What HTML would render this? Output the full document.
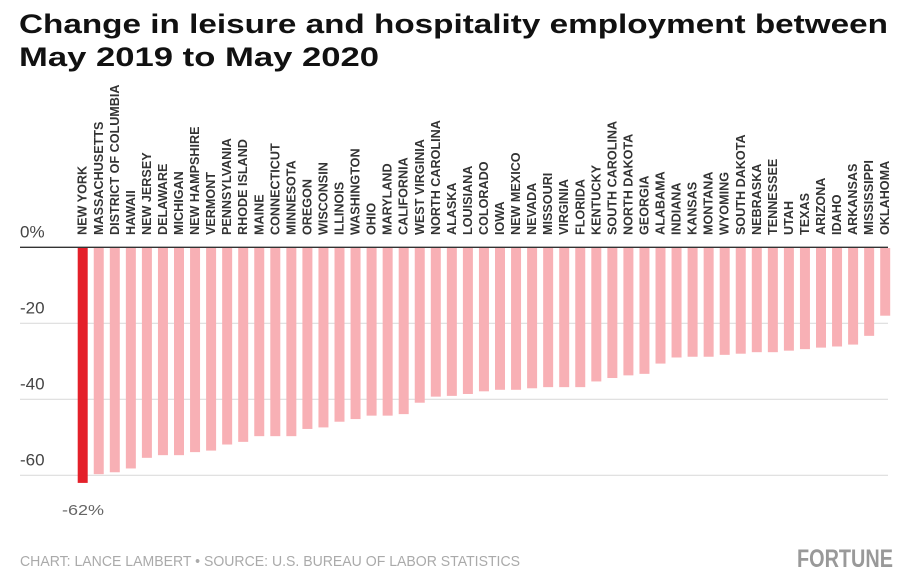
<!DOCTYPE html>
<html><head><meta charset="utf-8"><style>
html,body{margin:0;padding:0;background:#fff;}
svg{display:block;font-family:"Liberation Sans",sans-serif;}
</style></head>
<body>
<svg id="chart" width="918" height="578" viewBox="0 0 918 578">
<text x="19" y="33" font-size="26.5" font-weight="bold" fill="#111" textLength="869" lengthAdjust="spacingAndGlyphs">Change in leisure and hospitality employment between</text>
<text x="19" y="66" font-size="26.5" font-weight="bold" fill="#111" textLength="360" lengthAdjust="spacingAndGlyphs">May 2019 to May 2020</text>
<g id="grid"></g>
<g id="bars"></g>
<g id="labels"></g>
<text x="62" y="515" font-size="15" fill="#666" textLength="42" lengthAdjust="spacingAndGlyphs">-62%</text>
<text x="20" y="566" font-size="15" fill="#aaa" textLength="500" lengthAdjust="spacingAndGlyphs">CHART: LANCE LAMBERT • SOURCE: U.S. BUREAU OF LABOR STATISTICS</text>
<text x="797" y="567" font-size="25" font-weight="bold" fill="#999" textLength="96" lengthAdjust="spacingAndGlyphs">FORTUNE</text>
</svg>
<script>
const states = ["NEW YORK","MASSACHUSETTS","DISTRICT OF COLUMBIA","HAWAII","NEW JERSEY","DELAWARE","MICHIGAN","NEW HAMPSHIRE","VERMONT","PENNSYLVANIA","RHODE ISLAND","MAINE","CONNECTICUT","MINNESOTA","OREGON","WISCONSIN","ILLINOIS","WASHINGTON","OHIO","MARYLAND","CALIFORNIA","WEST VIRGINIA","NORTH CAROLINA","ALASKA","LOUISIANA","COLORADO","IOWA","NEW MEXICO","NEVADA","MISSOURI","VIRGINIA","FLORIDA","KENTUCKY","SOUTH CAROLINA","NORTH DAKOTA","GEORGIA","ALABAMA","INDIANA","KANSAS","MONTANA","WYOMING","SOUTH DAKOTA","NEBRASKA","TENNESSEE","UTAH","TEXAS","ARIZONA","IDAHO","ARKANSAS","MISSISSIPPI","OKLAHOMA"];
const changes = [-62,-59.7,-59.2,-58.2,-55.4,-54.7,-54.7,-53.9,-53.5,-51.9,-51.2,-49.7,-49.7,-49.7,-47.8,-47.4,-45.9,-45.2,-44.3,-44.3,-43.9,-40.9,-39.3,-39.1,-38.6,-37.9,-37.5,-37.5,-37.1,-36.8,-36.8,-36.8,-35.3,-34.4,-33.7,-33.3,-30.6,-29.0,-28.8,-28.8,-28.3,-28.0,-27.6,-27.6,-27.2,-26.8,-26.4,-26.1,-25.6,-23.3,-18.0];
const yTicks = [0,-20,-40,-60];
const yTickLabels = ["0%","-20","-40","-60"];

const NS="http://www.w3.org/2000/svg";
const y0=247.3, pxPerUnit=3.8, x0=77.7, step=16.05, bw=10;
const yScale=v=>y0-v*pxPerUnit;
const xScale=i=>x0+i*step;
const grid=document.getElementById('grid'), bars=document.getElementById('bars'), labels=document.getElementById('labels');

yTicks.forEach((t,i)=>{
  const l=document.createElementNS(NS,'line');
  l.setAttribute('x1',20);l.setAttribute('x2',888);
  l.setAttribute('y1',yScale(t));l.setAttribute('y2',yScale(t));
  l.setAttribute('stroke',t===0?'#333':'#ddd');l.setAttribute('stroke-width',t===0?1.3:1.2);
  
  
  grid.appendChild(l);
  const tx=document.createElementNS(NS,'text');
  tx.setAttribute('x',20);tx.setAttribute('y',yScale(t)-10);
  tx.setAttribute('font-size','17');tx.setAttribute('fill','#444');
  tx.textContent=yTickLabels[i];
  
  
  grid.appendChild(tx);
});

changes.forEach((v,i)=>{
  const r=document.createElementNS(NS,'rect');
  const x=xScale(i);
  r.setAttribute('x',x);r.setAttribute('y',y0+0.7);
  r.setAttribute('width',bw);r.setAttribute('height',Math.max(0,yScale(v)-y0-0.7));
  r.setAttribute('fill',i===0?'#e4202a':'#f8b0b5');
  
  
  bars.appendChild(r);
  const t=document.createElementNS(NS,'text');
  t.setAttribute('transform','translate('+(x+bw/2+4)+',235) rotate(-90) scale(0.97,1)');
  t.setAttribute('font-size','13');t.setAttribute('font-weight','bold');t.setAttribute('fill','#333');
  t.textContent=states[i];
  
  
  labels.appendChild(t);
});
</script>
</body></html>
